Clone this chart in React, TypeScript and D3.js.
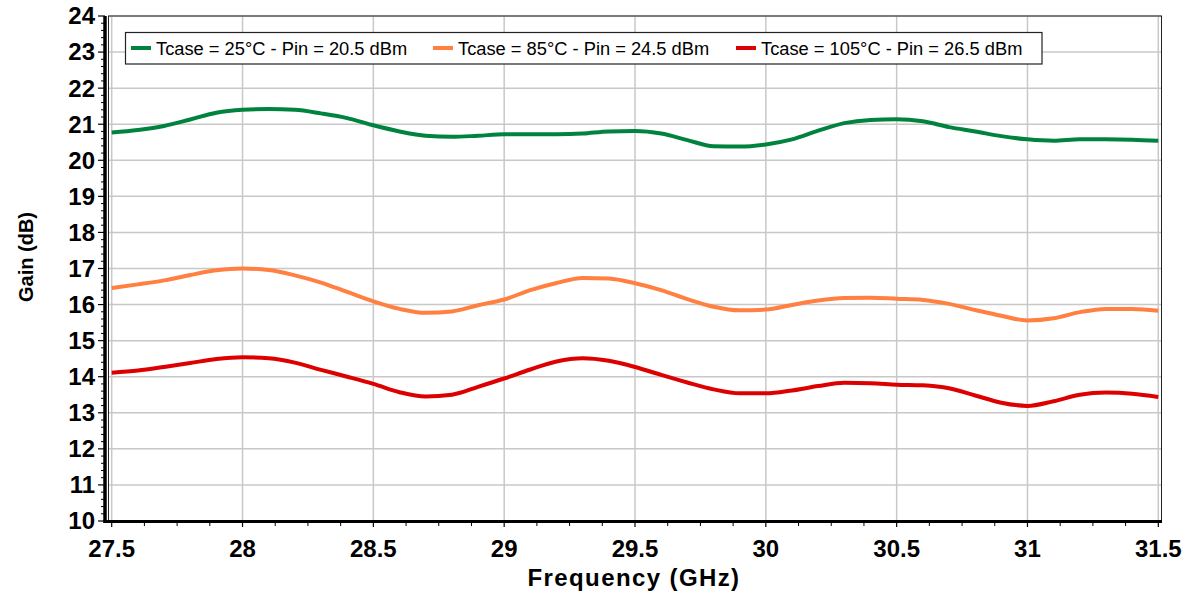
import React from "react";
import * as d3 from "d3";

const freqs = [27.5,27.6,27.7,27.8,27.9,28.0,28.1,28.2,28.3,28.4,28.5,28.6,28.7,28.8,28.9,29.0,29.1,29.2,29.3,29.4,29.5,29.6,29.7,29.8,29.9,30.0,30.1,30.2,30.3,30.4,30.5,30.6,30.7,30.8,30.9,31.0,31.1,31.2,31.3,31.4,31.5];
const gain25 = [20.77,20.84,20.95,21.13,21.32,21.40,21.42,21.40,21.30,21.17,20.97,20.80,20.68,20.65,20.68,20.72,20.72,20.72,20.74,20.80,20.81,20.74,20.56,20.39,20.38,20.44,20.58,20.82,21.03,21.12,21.14,21.08,20.92,20.80,20.67,20.58,20.54,20.58,20.58,20.57,20.54];
const gain85 = [16.46,16.56,16.67,16.82,16.95,17.00,16.96,16.81,16.61,16.35,16.09,15.88,15.77,15.81,15.98,16.14,16.40,16.60,16.74,16.72,16.59,16.40,16.15,15.94,15.84,15.86,15.99,16.11,16.18,16.19,16.16,16.13,16.02,15.85,15.69,15.56,15.62,15.79,15.88,15.88,15.83];
const gain105 = [14.11,14.17,14.27,14.38,14.49,14.54,14.51,14.39,14.19,14.00,13.80,13.57,13.45,13.50,13.72,13.95,14.20,14.42,14.51,14.44,14.27,14.05,13.84,13.65,13.54,13.54,13.62,13.74,13.83,13.82,13.78,13.76,13.68,13.48,13.28,13.19,13.32,13.50,13.56,13.53,13.44];

const seriesNames = ["Tcase = 25°C - Pin = 20.5 dBm", "Tcase = 85°C - Pin = 24.5 dBm", "Tcase = 105°C - Pin = 26.5 dBm"];
const seriesColors = ["#00833e", "#ff8040", "#dd0000"];
const seriesValues = [gain25, gain85, gain105];

const xTicks = [27.5, 28, 28.5, 29, 29.5, 30, 30.5, 31, 31.5];
const yTicks = [10, 11, 12, 13, 14, 15, 16, 17, 18, 19, 20, 21, 22, 23, 24];

const W = 1193, H = 593;
const FONT = "'Liberation Sans', Arial, sans-serif";

export default function App() {
  const x = d3.scaleLinear().domain([27.5, 31.5]).range([111.7, 1158.3]);
  const y = d3.scaleLinear().domain([10, 24]).range([521, 16]);
  const frameL = 108.5, frameR = 1161.5;
  const xMinor = d3.range(27.5, 31.5001, 0.125).filter(v => !xTicks.some(t => Math.abs(t - v) < 1e-6));
  const yMinor = d3.range(10, 24.0001, 0.2).filter(v => Math.abs(v - Math.round(v)) > 1e-6);
  const line = d3.line<number>().x((_, i) => x(freqs[i])).y(d => y(d)).curve(d3.curveMonotoneX);

  const legendItems = [
    { lx: 131, tx: 156 },
    { lx: 433, tx: 458 },
    { lx: 736, tx: 761 },
  ];

  return (
    <svg width={W} height={H} style={{ position: "absolute", left: 0, top: 0, background: "#fff" }} fontFamily={FONT}>
      <rect x={0} y={0} width={W} height={H} fill="#fff" />
      {/* grid */}
      {xTicks.map(t => (
        <line key={"gx" + t} x1={x(t)} x2={x(t)} y1={16} y2={521} stroke="#c8c8c8" strokeWidth={1.5} />
      ))}
      {yTicks.map(t => (
        <line key={"gy" + t} x1={frameL} x2={frameR} y1={y(t)} y2={y(t)} stroke="#c8c8c8" strokeWidth={1.5} />
      ))}
      {/* frame */}
      <rect x={frameL} y={16} width={frameR - frameL} height={521 - 16} fill="none" stroke="#222" strokeWidth={1} />
      {/* series */}
      {seriesValues.map((vals, i) => (
        <path key={"s" + i} d={line(vals) || ""} fill="none" stroke={seriesColors[i]} strokeWidth={4} strokeLinejoin="round" />
      ))}
      {/* legend */}
      <rect x={125.5} y={32.5} width={916.5} height={31.5} fill="#fff" stroke="#222" strokeWidth={1.2} />
      {legendItems.map((it, i) => (
        <g key={"lg" + i}>
          <line x1={it.lx} x2={it.lx + 20} y1={48} y2={48} stroke={seriesColors[i]} strokeWidth={4} />
          <text x={it.tx} y={54.5} fontSize={18.3} fill="#000">{seriesNames[i]}</text>
        </g>
      ))}
      {/* y axis */}
      <line x1={105} x2={105} y1={16} y2={523} stroke="#000" strokeWidth={3.5} />
      {yTicks.map(t => (
        <g key={"yt" + t}>
          <line x1={98} x2={105} y1={y(t)} y2={y(t)} stroke="#000" strokeWidth={1.2} />
          <text x={95} y={y(t)} dy="0.35em" textAnchor="end" fontSize={24} fontWeight="bold">{t}</text>
        </g>
      ))}
      {yMinor.map(t => (
        <line key={"ym" + t.toFixed(2)} x1={101} x2={105} y1={y(t)} y2={y(t)} stroke="#000" strokeWidth={1} />
      ))}
      {/* x axis */}
      <line x1={103.5} x2={frameR + 0.5} y1={521.5} y2={521.5} stroke="#000" strokeWidth={3} />
      {xTicks.map(t => (
        <g key={"xt" + t}>
          <line x1={x(t)} x2={x(t)} y1={521} y2={527} stroke="#000" strokeWidth={1.2} />
          <text x={x(t)} y={557} textAnchor="middle" fontSize={24} fontWeight="bold">{t}</text>
        </g>
      ))}
      {xMinor.map(t => (
        <line key={"xm" + t.toFixed(3)} x1={x(t)} x2={x(t)} y1={521} y2={526} stroke="#000" strokeWidth={1} />
      ))}
      {/* titles */}
      <text x={634} y={586} textAnchor="middle" fontSize={24} letterSpacing={1.4} fontWeight="bold">Frequency (GHz)</text>
      <text transform="translate(33,257) rotate(-90)" textAnchor="middle" fontSize={20} fontWeight="bold">Gain (dB)</text>
    </svg>
  );
}
